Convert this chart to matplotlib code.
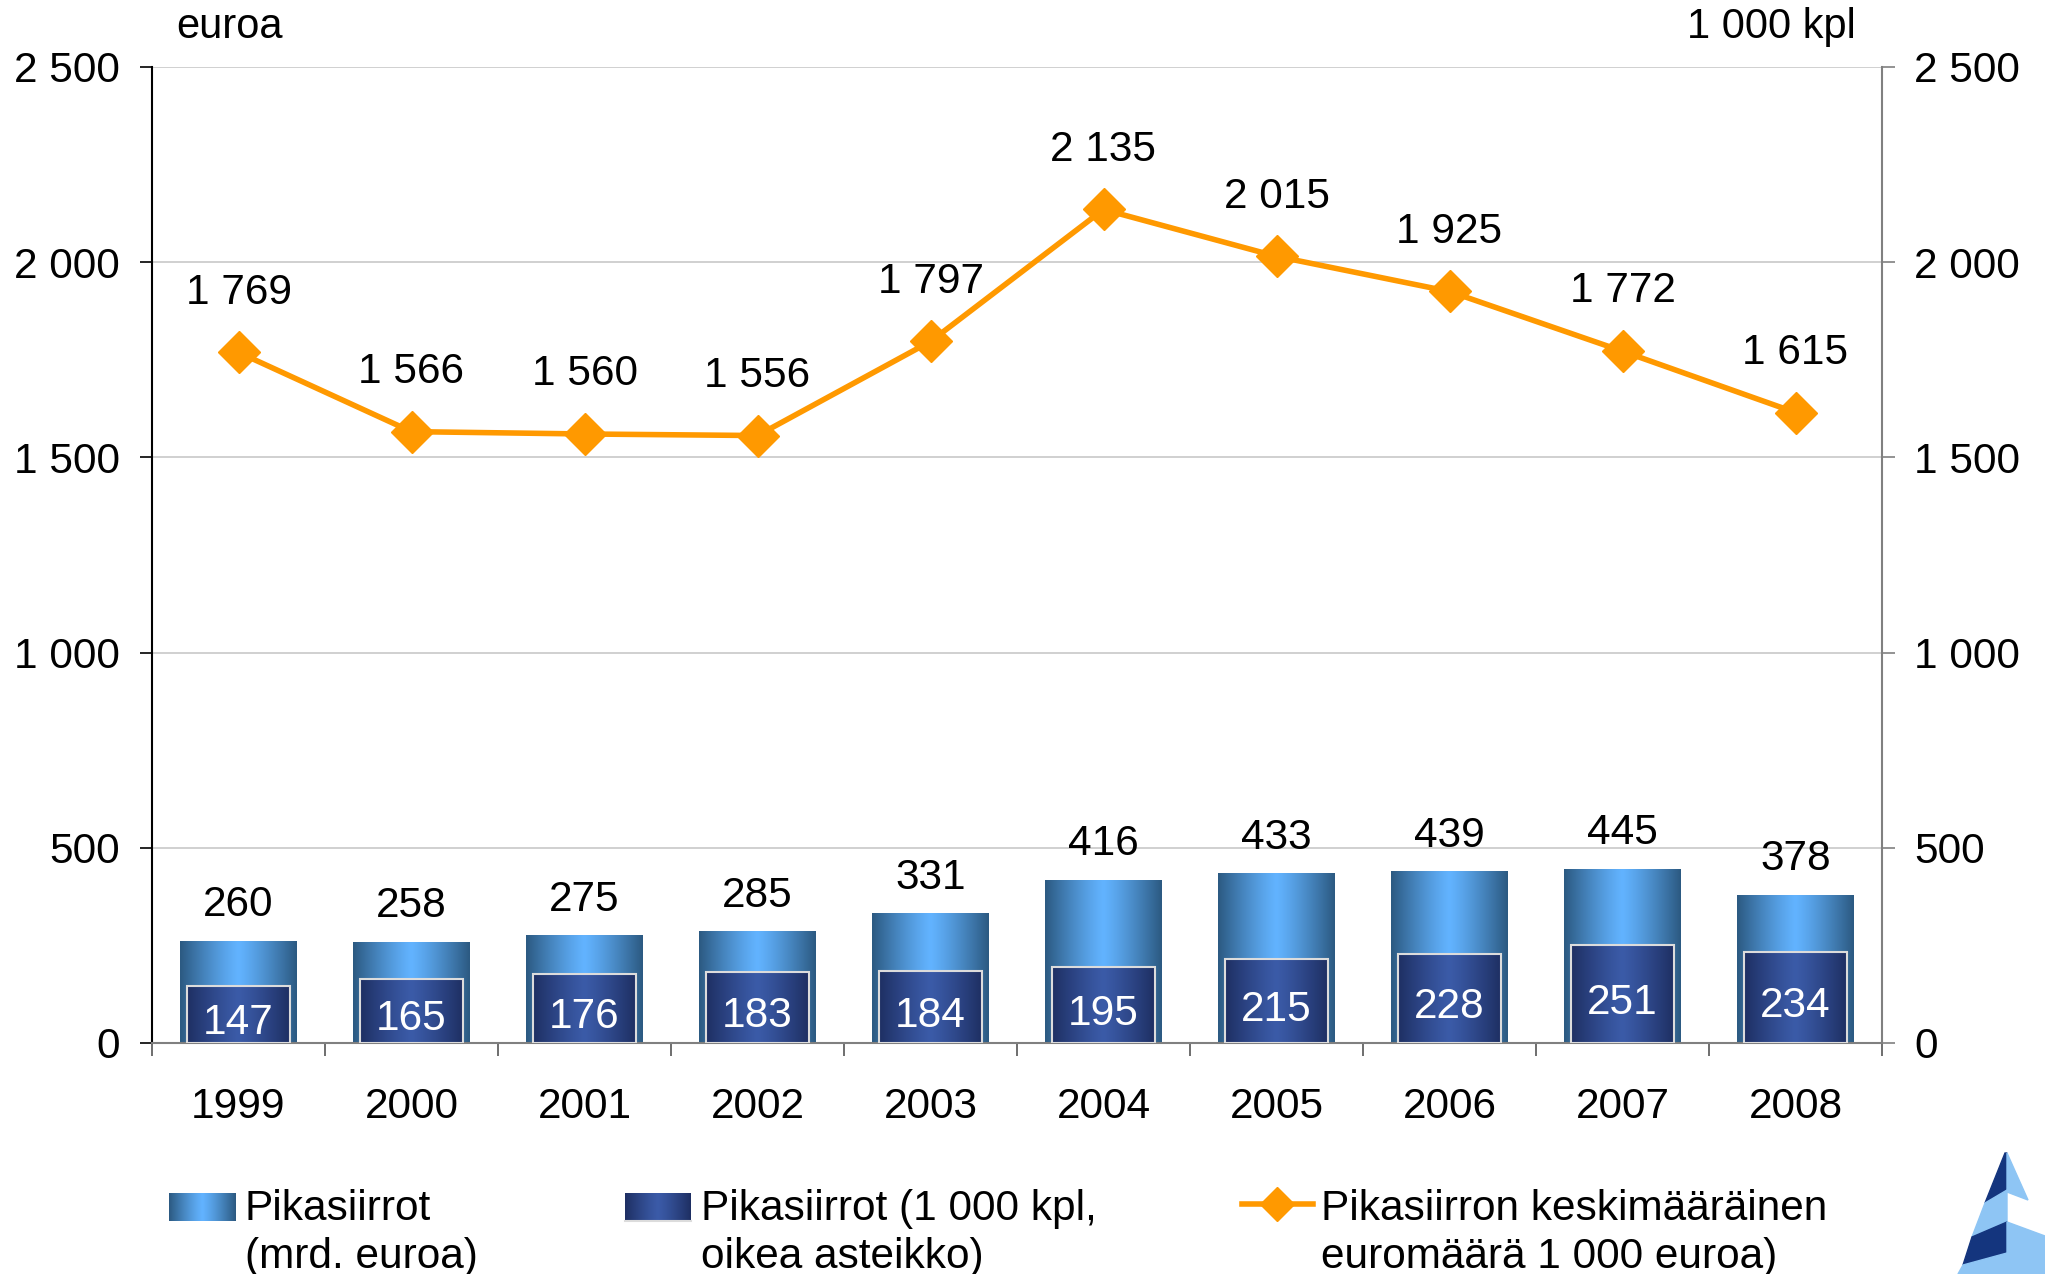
import numpy as np
import matplotlib
matplotlib.use("Agg")
import matplotlib.pyplot as plt
from matplotlib.patches import Polygon
from matplotlib.lines import Line2D

plt.rcParams['font.family'] = ['Liberation Sans', 'DejaVu Sans']

YEARS = ["1999", "2000", "2001", "2002", "2003", "2004", "2005", "2006", "2007", "2008"]
# Pikasiirrot (mrd. euroa)
VALUE_MRD = [260, 258, 275, 285, 331, 416, 433, 439, 445, 378]
# Pikasiirrot (1 000 kpl, oikea asteikko)
COUNT_KPL = [147, 165, 176, 183, 184, 195, 215, 228, 251, 234]
# Pikasiirron keskimääräinen euromäärä
AVG_EUR = [1769, 1566, 1560, 1556, 1797, 2135, 2015, 1925, 1772, 1615]

LEGEND_LABELS = ["Pikasiirrot\n(mrd. euroa)",
                 "Pikasiirrot (1 000 kpl,\noikea asteikko)",
                 "Pikasiirron keskimääräinen\neuromäärä 1 000 euroa)"]

OUTER_EDGE, OUTER_MID = "#2c5a82", "#62b3ff"
INNER_EDGE, INNER_MID = "#1e2f63", "#3b5ba8"
ORANGE = "#ff9900"
FS = 30.5


def fmt(v):
    return f"{v:,}".replace(",", " ")


def grad(edge, mid, n=96):
    e = np.array(matplotlib.colors.to_rgb(edge))
    m = np.array(matplotlib.colors.to_rgb(mid))
    t = np.abs(np.linspace(-1, 1, n))[:, None] ** 1.2
    return (m * (1 - t) + e * t)[None, :, :]


W, H = 2045, 1274
fig = plt.figure(figsize=(W / 100, H / 100), dpi=100)
ax = fig.add_axes([152 / W, 1 - 1043 / H, (1882 - 152) / W, (1043 - 67) / H])

x = np.arange(len(YEARS))

# outer bars (value)
bars = ax.bar(x, VALUE_MRD, width=0.675, color="none", zorder=2)
g_out = grad(OUTER_EDGE, OUTER_MID)
for r in bars:
    ax.imshow(g_out, extent=[r.get_x(), r.get_x() + r.get_width(), 0, r.get_height()],
              aspect="auto", zorder=2, interpolation="bilinear")

# inner bars (count)
bars2 = ax.bar(x, COUNT_KPL, width=0.59, facecolor="none", edgecolor="#dcdcdc",
               linewidth=1.5, zorder=4)
g_in = grad(INNER_EDGE, INNER_MID)
for r in bars2:
    ax.imshow(g_in, extent=[r.get_x(), r.get_x() + r.get_width(), 0, r.get_height()],
              aspect="auto", zorder=3, interpolation="bilinear")

# line
ax.plot(x, AVG_EUR, color=ORANGE, lw=4, marker="D", markersize=21, zorder=6)

for i in range(len(YEARS)):
    ax.annotate(str(VALUE_MRD[i]), (x[i], VALUE_MRD[i]), xytext=(0, 26),
                textcoords="offset points", ha="center", va="center", fontsize=FS)
    ax.annotate(str(COUNT_KPL[i]), (x[i], COUNT_KPL[i] / 2), xytext=(0, -3),
                textcoords="offset points", ha="center", va="center_baseline",
                fontsize=FS, color="white", zorder=5)
    ax.annotate(fmt(AVG_EUR[i]), (x[i], AVG_EUR[i]), xytext=(0, 43),
                textcoords="offset points", ha="center", va="center", fontsize=FS)

ax.set_xlim(-0.5, len(YEARS) - 0.5)
ax.set_ylim(0, 2500)
yt = np.arange(0, 2501, 500)
ax.set_yticks(yt)
ax.set_yticklabels([fmt(v) for v in yt], fontsize=FS)
ax.yaxis.grid(True, color="#c8c8c8", lw=1.2, zorder=0)
ax.set_axisbelow(True)

ax.set_xticks(x)
ax.set_xticklabels(YEARS, fontsize=FS)
ax.set_xticks(np.arange(-0.5, len(YEARS)), minor=True)
ax.tick_params(axis="x", which="major", length=0, pad=32)
ax.tick_params(axis="x", which="minor", length=9, width=1.2, color="#555555")
ax.tick_params(axis="y", length=9, width=1.2, pad=14, color="black")

ax.spines["top"].set_visible(False)
ax.spines["right"].set_visible(False)
ax.spines["left"].set_color("black")
ax.spines["bottom"].set_color("#808080")
for s in ax.spines.values():
    s.set_linewidth(1.5)

ax2 = ax.twinx()
ax2.set_ylim(0, 2500)
ax2.set_yticks(yt)
ax2.set_yticklabels([fmt(v) for v in yt], fontsize=FS)
ax2.tick_params(axis="y", length=9, width=1.2, pad=14, color="#808080")
for s in ["top", "left", "bottom"]:
    ax2.spines[s].set_visible(False)
ax2.spines["right"].set_color("#808080")
ax2.spines["right"].set_linewidth(1.5)

fig.text(230 / W, 1 - 27 / H, "euroa", ha="center", va="center", fontsize=30)
fig.text(1856 / W, 1 - 27 / H, "1 000 kpl", ha="right", va="center", fontsize=30)

# legend and logo on an overlay in pixel coordinates
ov = fig.add_axes([0, 0, 1, 1], zorder=10)
ov.set_xlim(0, W)
ov.set_ylim(H, 0)
ov.axis("off")
ov.patch.set_alpha(0)

ov.imshow(g_out, extent=[169, 236, 1221, 1193], aspect="auto", interpolation="bilinear")
ov.imshow(g_in, extent=[625, 691, 1221, 1193], aspect="auto", interpolation="bilinear")
ov.plot([625, 691], [1221, 1221], color="#dcdcdc", lw=1.5)
ov.add_line(Line2D([1242, 1313], [1204, 1204], color=ORANGE, lw=4))
ov.plot([1277], [1204], marker="D", markersize=17, color=ORANGE)
for tx, lab in zip([245, 701, 1321], LEGEND_LABELS):
    ov.text(tx, 1233, lab, ha="left", va="center", fontsize=30.5, linespacing=1.26)

dark, light = "#14357e", "#8ec5f4"
ov.add_patch(Polygon([(2005, 1153), (2007, 1153), (2007, 1190), (1985, 1203)], color=dark))
ov.add_patch(Polygon([(1985, 1203), (2007, 1190), (2007, 1222), (1972, 1237)], color=light))
ov.add_patch(Polygon([(1972, 1237), (2007, 1222), (2007, 1253), (1963, 1265)], color=dark))
ov.add_patch(Polygon([(1963, 1265), (2007, 1253), (2007, 1274), (1958, 1274)], color=light))
ov.add_patch(Polygon([(2007, 1153), (2028, 1200), (2007, 1192)], color=light))
ov.add_patch(Polygon([(2007, 1222), (2045, 1236), (2045, 1274), (2007, 1274)], color=light))
ov.set_xlim(0, W)
ov.set_ylim(H, 0)

fig.savefig("out.png", dpi=100)
